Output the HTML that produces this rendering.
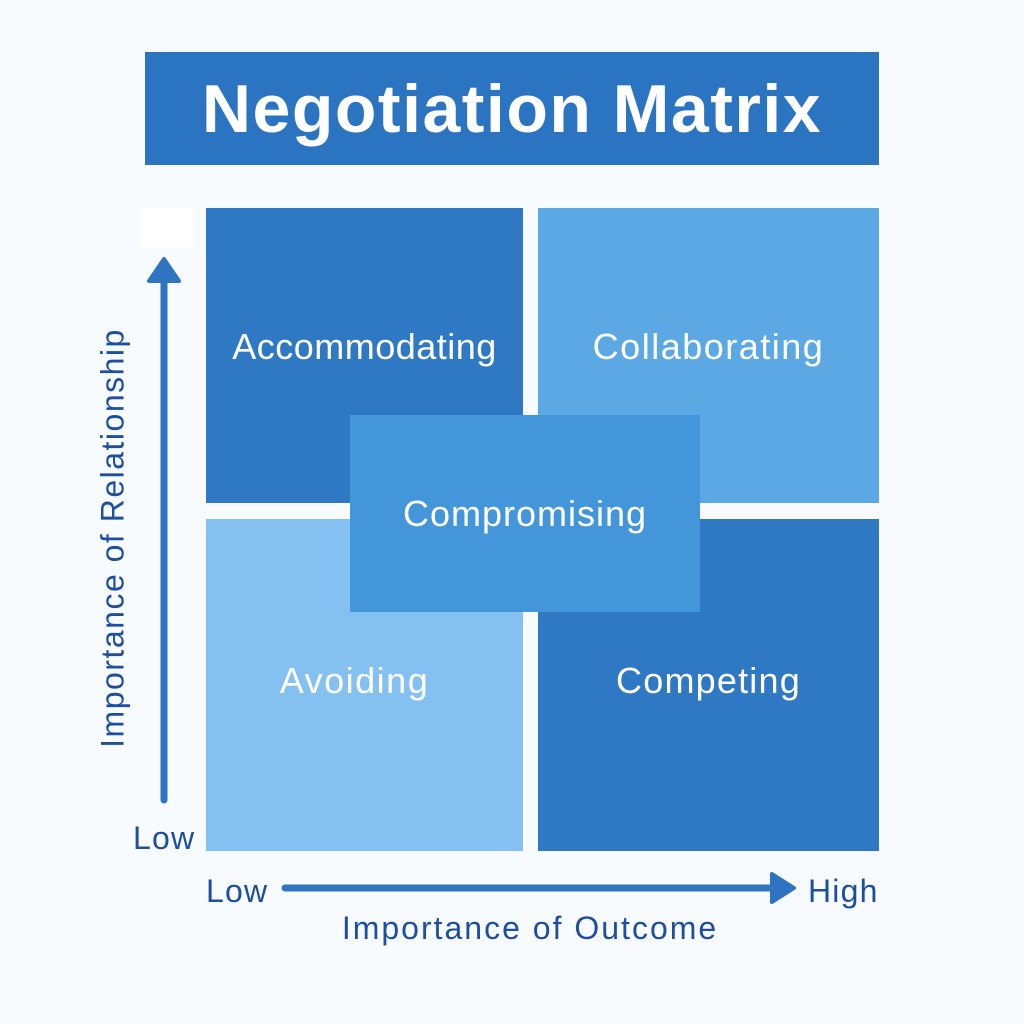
<!DOCTYPE html>
<html><head><style>
body{margin:0;width:1024px;height:1024px;background:#f8fbfe;position:relative;overflow:hidden;font-family:"Liberation Sans",sans-serif}
.b{position:absolute;display:flex;align-items:center;justify-content:center;color:#fff;font-size:36px;letter-spacing:0.5px}
.t{position:absolute;color:#1d4f9e;font-size:32px;white-space:nowrap;letter-spacing:1.2px}
</style></head><body>
<div class="b" style="left:145px;top:52px;width:734px;height:113px;background:#2a74c1;font-weight:bold;font-size:68px;letter-spacing:1.5px">Negotiation Matrix</div>
<div style="position:absolute;left:140px;top:207px;width:53px;height:41px;background:#fff"></div>
<div class="b" style="left:206px;top:208px;width:317px;height:295px;background:#2f78c4;align-items:flex-start;padding-top:118px;box-sizing:border-box">Accommodating</div>
<div class="b" style="left:538px;top:208px;width:341px;height:295px;background:#5ba8e4;align-items:flex-start;padding-top:118px;box-sizing:border-box;letter-spacing:1.5px">Collaborating</div>
<div class="b" style="left:206px;top:519px;width:317px;height:332px;background:#85c1f0;align-items:flex-start;padding-top:141px;padding-right:20px;box-sizing:border-box;letter-spacing:1.5px">Avoiding</div>
<div class="b" style="left:538px;top:519px;width:341px;height:332px;background:#2f78c4;align-items:flex-start;padding-top:141px;box-sizing:border-box;letter-spacing:1.2px">Competing</div>
<div class="b" style="left:350px;top:415px;width:350px;height:197px;background:#4396da;letter-spacing:1px">Compromising</div>
<svg style="position:absolute;left:0;top:0" width="1024" height="1024">
<line x1="164" y1="800" x2="164" y2="278" stroke="#2f74c0" stroke-width="7" stroke-linecap="round"/>
<polygon points="164,259 149,281 179,281" fill="#2f74c0" stroke="#2f74c0" stroke-width="4" stroke-linejoin="round"/>
<line x1="285" y1="888" x2="775" y2="888" stroke="#2f74c0" stroke-width="7" stroke-linecap="round"/>
<polygon points="794,888 772,874 772,902" fill="#2f74c0" stroke="#2f74c0" stroke-width="4" stroke-linejoin="round"/>
</svg>
<div class="t" style="left:113px;top:538px;transform:translate(-50%,-50%) rotate(-90deg);letter-spacing:1.5px">Importance of Relationship</div>
<div class="t" style="left:133px;top:820px">Low</div>
<div class="t" style="left:206px;top:873px">Low</div>
<div class="t" style="left:808px;top:873px">High</div>
<div class="t" style="left:530px;top:910px;transform:translateX(-50%);letter-spacing:2px">Importance of Outcome</div>
</body></html>
